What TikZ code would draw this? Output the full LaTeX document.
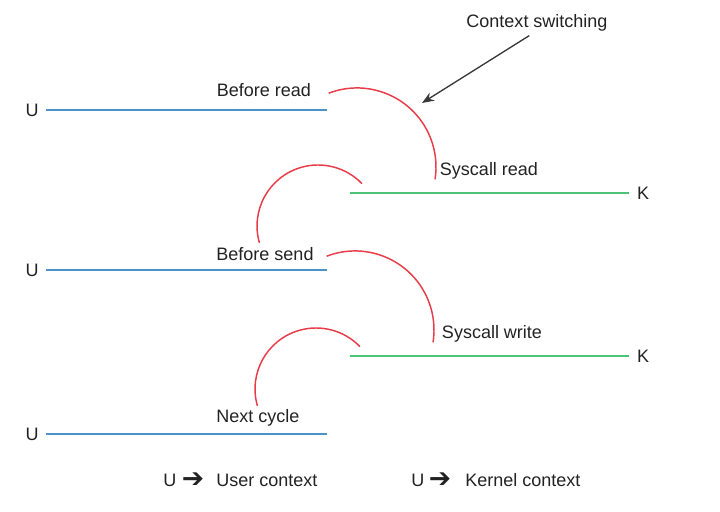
\documentclass[tikz,border=0pt]{standalone}
\usepackage{fontspec}
\setmainfont{Liberation Sans}
\newfontfamily\symfont{DejaVu Sans}
\usetikzlibrary{arrows.meta}
\definecolor{ublue}{RGB}{74,146,204}
\definecolor{kgreen}{RGB}{76,196,120}
\definecolor{cred}{RGB}{232,60,72}
\definecolor{txt}{RGB}{34,34,34}
\begin{document}
\begin{tikzpicture}[x=0.75pt,y=0.75pt,
  lbl/.style={inner sep=0pt,text=txt,font=\fontsize{13.5}{16}\selectfont},
  legarrow/.style={inner sep=0pt,text=txt,font=\symfont\fontsize{20}{20}\selectfont},
  userline/.style={draw=ublue,line width=1.5pt},
  kernline/.style={draw=kgreen,line width=1.5pt},
  switcharc/.style={draw=cred,line width=1.1pt},
  pointer/.style={draw=txt!90,line width=1pt,-{Stealth[length=9pt,width=7pt]}}]
\useasboundingbox (0,0) rectangle (720,511);
% user lines
\coordinate (u1a) at (46,401); \coordinate (u1b) at (327,401);
\coordinate (u2a) at (46,241); \coordinate (u2b) at (327,241);
\coordinate (u3a) at (46,77);  \coordinate (u3b) at (327,77);
\coordinate (k1a) at (350,318); \coordinate (k1b) at (629,318);
\coordinate (k2a) at (350,155); \coordinate (k2b) at (629,155);
\draw[userline] (u1a) -- (u1b);
\draw[userline] (u2a) -- (u2b);
\draw[userline] (u3a) -- (u3b);
\draw[kernline] (k1a) -- (k1b);
\draw[kernline] (k2a) -- (k2b);
\node[lbl] (U1) at (32,401) {U};
\node[lbl] (U2) at (32,241) {U};
\node[lbl] (U3) at (32,77) {U};
\node[lbl] (K1) at (643,318) {K};
\node[lbl] (K2) at (643,155) {K};
\node[lbl] (br) at (264,421) {Before read};
\node[lbl] (sr) at (489,340) {Syscall read};
\node[lbl] (bs) at (265,257) {Before send};
\node[lbl] (sw) at (492,177) {Syscall write};
\node[lbl] (nc) at (258,93) {Next cycle};
\node[lbl] (cs) at (537,488) {Context switching};
% arcs
\coordinate (a1) at (328.7,417.8);
\coordinate (a2) at (259.4,268.2);
\coordinate (a3) at (326.7,254.8);
\coordinate (a4) at (257.4,105.2);
\draw[switcharc] (a1) arc[start angle=111,end angle=-9,radius=79];
\draw[switcharc] (a2) arc[start angle=196,end angle=44,radius=61];
\draw[switcharc] (a3) arc[start angle=111,end angle=-9,radius=79];
\draw[switcharc] (a4) arc[start angle=196,end angle=44,radius=61];
% pointer
\coordinate (pt) at (422,408);
\draw[pointer] (cs.south west) ++(63,-4) coordinate (ps) -- (pt);
% legend
\node[lbl,anchor=west] (lu1) at (163,31) {U};
\node[legarrow] (la1) at (193,31) {➔};
\node[lbl,anchor=west] (lt1) at (216,31) {User context};
\node[lbl,anchor=west] (lu2) at (411,31) {U};
\node[legarrow] (la2) at (440,31) {➔};
\node[lbl,anchor=west] (lt2) at (465,31) {Kernel context};
\end{tikzpicture}
\end{document}
